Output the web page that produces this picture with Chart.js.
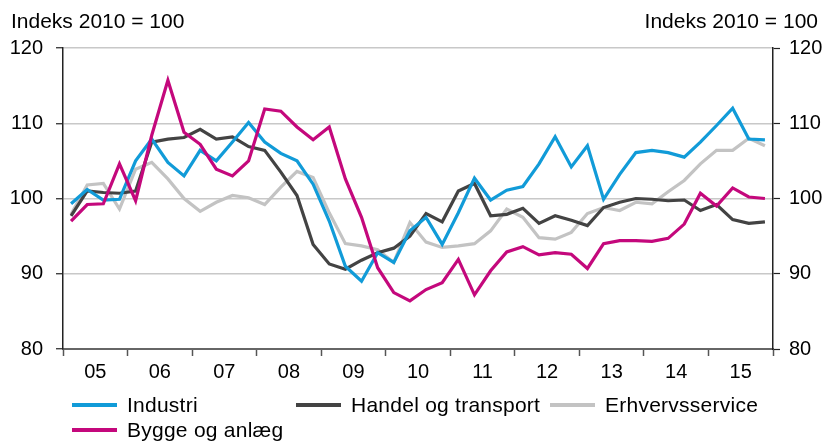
<!DOCTYPE html>
<html>
<head>
<meta charset="utf-8">
<script src="https://cdn.jsdelivr.net/npm/chart.js@4/dist/chart.umd.min.js"></script>
<style>
  html, body { margin: 0; padding: 0; background: #fff; }
  #wrap { position: relative; width: 826px; height: 443px; font-family: "Liberation Sans", Arial, sans-serif; color: #000; }
  canvas { position: absolute; left: 0; top: 0; }
  .ttl { position: absolute; top: 9px; font-size: 21px; line-height: 24px; white-space: nowrap; }
  .leg { position: absolute; font-size: 21px; line-height: 24px; white-space: nowrap; letter-spacing: 0.25px; }
  .leg i { position: absolute; left: 0; top: 10px; width: 45px; height: 4px; }
  .leg span { position: absolute; left: 55px; top: 0; }
</style>
</head>
<body>
<div id="wrap">
  <canvas id="c" width="826" height="443"></canvas>
  <div class="ttl" style="left:11px">Indeks 2010 = 100</div>
  <div class="ttl" style="right:8px">Indeks 2010 = 100</div>
  <div id="legend"></div>
</div>
<script>
// ---- data (quarterly, 2005Q1 .. 2015Q4) ----
const years = ['05','06','07','08','09','10','11','12','13','14','15'];
const seriesNames = ['Industri','Handel og transport','Erhvervsservice','Bygge og anlæg'];

const industri = [99.3,101.2,99.8,99.9, 105.0,107.9,104.8,103.0, 106.4,105.0,107.5,110.1,
  107.5,106.0,105.0,101.9, 97.0,91.0,89.0,92.8, 91.5,95.7,97.5,93.9,
  98.1,102.7,99.8,101.1, 101.6,104.6,108.2,104.2, 107.0,99.9,103.2,106.1,
  106.4,106.1,105.5,107.5, 109.7,112.0,107.9,107.8];

const handel = [97.7,101.0,100.8,100.7, 101.0,107.5,107.9,108.1, 109.2,107.9,108.2,106.9,
  106.4,103.5,100.4,93.9, 91.3,90.6,91.8,92.8, 93.4,95.0,98.0,96.9,
  101.0,102.0,97.7,97.9, 98.7,96.7,97.7,97.1, 96.4,98.8,99.5,100.0,
  99.9,99.7,99.8,98.4, 99.2,97.2,96.7,96.9];

const erhverv = [97.9,101.8,102.0,98.6, 103.9,104.8,102.6,100.0, 98.3,99.5,100.4,100.1,
  99.2,101.5,103.6,102.8, 98.1,94.0,93.7,93.2, 91.5,96.8,94.2,93.5,
  93.7,94.0,95.7,98.6, 97.5,94.8,94.6,95.5, 98.0,98.8,98.4,99.5,
  99.3,100.9,102.4,104.6, 106.4,106.4,108.0,107.0];

const bygge = [97.0,99.2,99.3,104.6, 99.7,108.4,115.7,108.8, 107.2,103.9,103.0,105.0,
  111.9,111.6,109.5,107.8, 109.5,102.6,97.5,90.8, 87.5,86.4,87.9,88.8,
  91.9,87.2,90.4,92.9, 93.6,92.5,92.8,92.6, 90.7,94.0,94.4,94.4,
  94.3,94.7,96.6,100.7, 99.0,101.4,100.2,100.0];

const yTicks = [80, 90, 100, 110, 120];

// ---- styles ----
const colors = ['#119bd8', '#434343', '#c3c3c3', '#c4087c'];
const FONT = { family: '"Liberation Sans", Arial, sans-serif', size: 20 };

const toXY = arr => arr.map((v, i) => ({ x: i + 0.5, y: v }));
const seriesData = [industri, handel, erhverv, bygge];
const drawOrder = [1, 2, 3, 0];

const datasets = seriesData.map((arr, k) => ({
  label: seriesNames[k],
  data: toXY(arr),
  borderColor: colors[k],
  backgroundColor: colors[k],
  borderWidth: 3.2,
  pointRadius: 0,
  tension: 0,
  order: drawOrder[k],
  yAxisID: 'y'
}));

// HTML legend
const legPos = [[72, 393], [296, 393], [550, 393], [72, 418]];
const legEl = document.getElementById('legend');
seriesNames.forEach((n, k) => {
  const d = document.createElement('div');
  d.className = 'leg';
  d.style.left = legPos[k][0] + 'px';
  d.style.top = legPos[k][1] + 'px';
  d.innerHTML = '<i style="background:' + colors[k] + '"></i><span>' + n + '</span>';
  legEl.appendChild(d);
});

const nQ = years.length * 4;

new Chart(document.getElementById('c'), {
  type: 'line',
  data: { datasets },
  options: {
    responsive: false,
    animation: false,
    devicePixelRatio: 1,
    layout: { padding: { top: 48, bottom: 64, left: 0, right: 0 } },
    plugins: { legend: { display: false }, tooltip: { enabled: false } },
    scales: {
      x: {
        type: 'linear',
        min: 0, max: nQ,
        afterBuildTicks: ax => { const t = []; for (let v = 0; v <= nQ; v += 2) t.push({ value: v }); ax.ticks = t; },
        afterFit: ax => { ax.height = 30; },
        ticks: {
          autoSkip: false, maxRotation: 0, padding: 4,
          color: '#000', font: FONT,
          callback: v => (v % 4 === 2 ? years[(v - 2) / 4] : '')
        },
        grid: {
          drawOnChartArea: false,
          tickLength: 7,
          tickWidth: 1.5,
          tickColor: ctx => (ctx.tick && ctx.tick.value % 4 === 0 ? '#555' : 'rgba(0,0,0,0)')
        },
        border: { display: true, color: '#666', width: 2 }
      },
      y: {
        position: 'left',
        min: 80, max: 120,
        afterBuildTicks: ax => { ax.ticks = yTicks.map(v => ({ value: v })); },
        afterFit: ax => { ax.width = 63; },
        ticks: { padding: 13, color: '#000', font: FONT },
        grid: {
          color: ctx => (ctx.tick && ctx.tick.value === 80 ? 'rgba(0,0,0,0)' : '#c8c8c8'),
          lineWidth: 1.5,
          tickLength: 7,
          tickColor: '#222',
          tickWidth: 1.2
        },
        border: { display: true, color: '#222', width: 1.5 }
      },
      y2: {
        position: 'right',
        min: 80, max: 120,
        afterBuildTicks: ax => { ax.ticks = yTicks.map(v => ({ value: v })); },
        afterFit: ax => { ax.width = 53; },
        ticks: { padding: 9, color: '#000', font: FONT },
        grid: {
          drawOnChartArea: false,
          tickLength: 7,
          tickColor: '#222',
          tickWidth: 1.2
        },
        border: { display: true, color: '#222', width: 1.5 }
      }
    }
  }
});
</script>
</body>
</html>
